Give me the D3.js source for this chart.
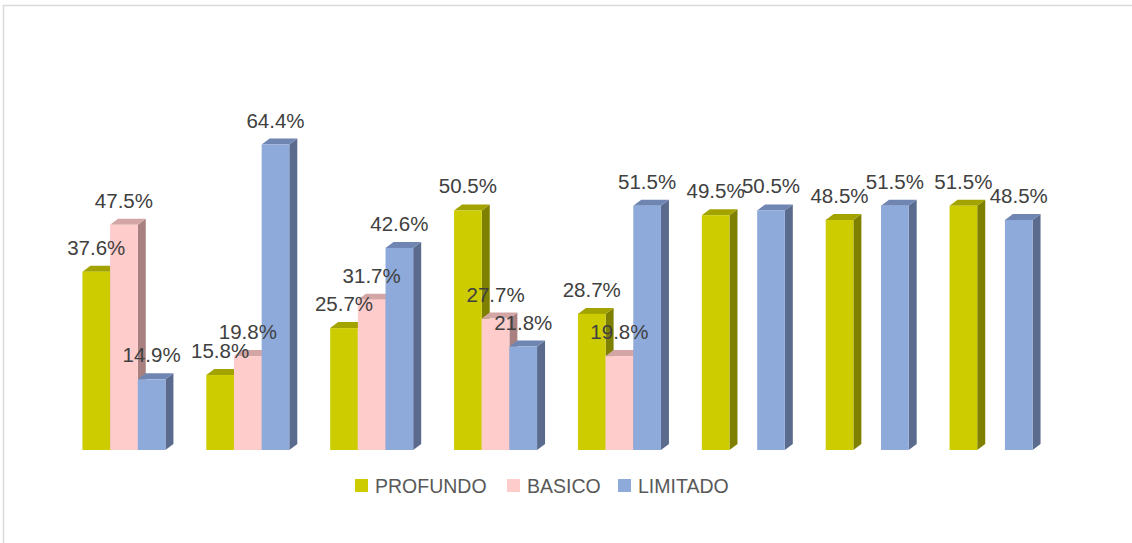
<!DOCTYPE html>
<html>
<head>
<meta charset="utf-8">
<script src="https://cdn.jsdelivr.net/npm/d3@7"></script>
<style>
  body { margin: 0; background: #fff; }
  svg { display: block; }
</style>
</head>
<body>
<div id="chart"></div>
<script>
const width = 1132, height = 543;

// data
const categories = ["1", "2", "3", "4", "5", "6", "7", "8"];
const seriesNames = ["PROFUNDO", "BASICO", "LIMITADO"];
const profundo = [37.6, 15.8, 25.7, 50.5, 28.7, 49.5, 48.5, 51.5];
const basico = [47.5, 19.8, 31.7, 27.7, 19.8, null, null, null];
const limitado = [14.9, 64.4, 42.6, 21.8, 51.5, 50.5, 51.5, 48.5];

const colors = {
    PROFUNDO: {front: "#cccc00", side: "#7f7f00", top: "#a3a300"},
    BASICO: {front: "#ffcccc", side: "#a88080", top: "#d4a5a5"},
    LIMITADO: {front: "#8eaadb", side: "#5a6b8e", top: "#6f86b3"}
};

const values = {PROFUNDO: profundo, BASICO: basico, LIMITADO: limitado};
const depth = {dx: 8, dy: 6};

let svg = d3.select("#chart").append("svg")
    .attr("width", width)
    .attr("height", height);

// chart frame
svg.append("path")
    .attr("d", `M3.5,${height} L3.5,5.5 L${width},5.5`)
    .attr("fill", "none")
    .attr("stroke", "#d9d9d9")
    .attr("stroke-width", 1.5);

let x = d3.scaleBand()
    .domain(categories)
    .range([62, 1053])
    .paddingInner(0.33)
    .paddingOuter(0.165);

let xs = d3.scaleBand()
    .domain(seriesNames)
    .range([0, x.bandwidth()]);

let y = d3.scaleLinear()
    .domain([0, 70])
    .range([450, 118]);

let bars = [];
categories.forEach((c, i) => {
    seriesNames.forEach(s => {
        let v = values[s][i];
        if (v != null) bars.push({cat: c, series: s, value: v});
    });
});

let g = svg.append("g");

let bar = g.selectAll("g.bar")
    .data(bars)
    .join("g")
    .attr("class", "bar");

bar.each(function(d) {
    let x0 = x(d.cat) + xs(d.series);
    let x1 = x0 + xs.bandwidth();
    let yt = y(d.value), yb = y(0);
    let c = colors[d.series];
    let sel = d3.select(this);
    // side face
    sel.append("path")
        .attr("d", `M${x1},${yt} L${x1 + depth.dx},${yt - depth.dy} L${x1 + depth.dx},${yb - depth.dy} L${x1},${yb} Z`)
        .attr("fill", c.side);
    // top face
    sel.append("path")
        .attr("d", `M${x0},${yt} L${x0 + depth.dx},${yt - depth.dy} L${x1 + depth.dx},${yt - depth.dy} L${x1},${yt} Z`)
        .attr("fill", c.top);
    // front face
    sel.append("rect")
        .attr("x", x0)
        .attr("y", yt)
        .attr("width", xs.bandwidth())
        .attr("height", yb - yt)
        .attr("fill", c.front);
});

g.selectAll("text.label")
    .data(bars)
    .join("text")
    .attr("class", "label")
    .attr("x", d => x(d.cat) + xs(d.series) + xs.bandwidth() / 2)
    .attr("y", d => y(d.value) - 17)
    .attr("text-anchor", "middle")
    .attr("font-family", "Liberation Sans, Arial, sans-serif")
    .attr("font-size", 20.5)
    .attr("fill", "#404040")
    .text(d => d.value.toFixed(1) + "%");

// legend
const legendX = [355, 507, 618];
let legend = svg.append("g")
    .selectAll("g")
    .data(seriesNames)
    .join("g")
    .attr("transform", (d, i) => `translate(${legendX[i]},479)`);
legend.append("rect")
    .attr("width", 13)
    .attr("height", 13)
    .attr("fill", d => colors[d].front);
legend.append("text")
    .attr("x", 20)
    .attr("y", 13.5)
    .attr("font-family", "Liberation Sans, Arial, sans-serif")
    .attr("font-size", 19.5)
    .attr("fill", "#595959")
    .text(d => d);
</script>
</body>
</html>
